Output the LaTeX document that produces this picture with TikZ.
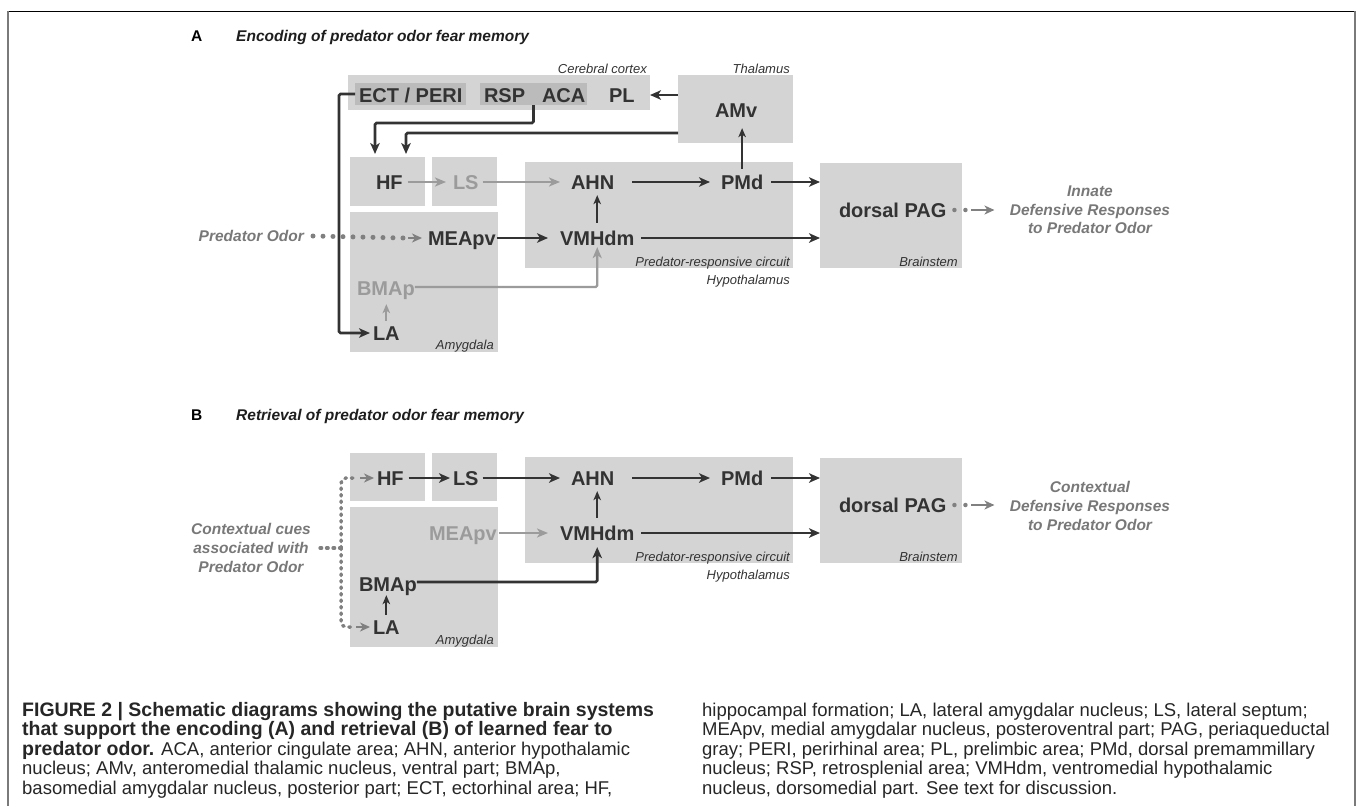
\documentclass[tikz,border=0pt]{standalone}
\usepackage{fontspec}
\setmainfont{Liberation Sans}
\usetikzlibrary{arrows.meta,calc}
\definecolor{boxgray}{HTML}{D4D4D4}
\definecolor{innergray}{HTML}{BBBBBB}
\definecolor{dark}{HTML}{333333}
\definecolor{lightgray2}{HTML}{9B9B9B}
\definecolor{labgray}{HTML}{787878}
\definecolor{dotgray}{HTML}{808080}
\definecolor{framegray}{HTML}{7A7A7A}
\definecolor{titlec}{HTML}{1E1E1E}
\definecolor{capc}{HTML}{262626}
\newcommand{\capbf}[1]{{\fontsize{19.5}{20}\selectfont\bfseries #1}}
\begin{document}
\begin{tikzpicture}[x=1pt,y=-1pt,
  regionbox/.style={fill=boxgray, draw=none, inner sep=0pt, outer sep=0pt, anchor=north west},
  innerbox/.style={fill=innergray, draw=none, inner sep=0pt, outer sep=0pt, anchor=north west},
  nlab/.style={font=\fontsize{20}{24}\selectfont\bfseries, text=dark, inner sep=0pt, outer sep=0pt, text height=14.3pt, text depth=0pt, anchor=west},
  glab/.style={nlab, text=lightgray2},
  rlab/.style={font=\fontsize{13}{15}\selectfont\itshape, text=dark, inner sep=0pt, text height=9.3pt, text depth=0pt, anchor=east},
  side/.style={font=\fontsize{15.5}{18.7}\selectfont\bfseries\itshape, text=labgray, align=center, inner sep=0pt},
  ptitle/.style={font=\fontsize{15.5}{18}\selectfont\bfseries\itshape, text=titlec, inner sep=0pt, text height=11.1pt, text depth=0pt, anchor=west},
  pletter/.style={font=\fontsize{15.5}{18}\selectfont\bfseries, text=black, inner sep=0pt, text height=11.1pt, text depth=0pt, anchor=west},
  capline/.style={font=\fontsize{18.5}{20}\selectfont, text=capc, inner sep=0pt, anchor=base west},
  darr/.style={draw=dark, line width=2.6pt, rounded corners=1.5pt, -{Stealth[length=11pt,width=9.5pt,inset=3pt]}},
  tarr/.style={draw=dark, line width=2pt, -{Stealth[length=9pt,width=7.5pt,inset=2.5pt]}},
  garr/.style={draw=lightgray2, line width=2.4pt, rounded corners=1.5pt, -{Stealth[length=11pt,width=9pt,inset=3pt]}},
  gtarr/.style={draw=lightgray2, line width=2pt, -{Stealth[length=9pt,width=7.5pt,inset=2.5pt]}},
  dotA/.style={draw=dotgray, line width=5pt, line cap=round, dash pattern=on 0pt off 10pt},
  dotPAG/.style={draw=dotgray, line width=4.5pt, line cap=round, dash pattern=on 0pt off 11pt},
  dotB/.style={draw=dotgray, line width=3.5pt, line cap=round, dash pattern=on 1.5pt off 5pt},
  dtip/.style={draw=dotgray, line width=2.4pt, -{Stealth[length=10pt,width=9pt,inset=3pt]}},
]
\useasboundingbox (0,0) rectangle (1357,806);
% frame
\draw[black, line width=1.2pt] (7,11.7) -- (1356,11.7);
\draw[framegray, line width=2pt] (8,11) -- (8,806);
\draw[framegray, line width=2pt] (1355,11) -- (1355,806);

% ================= Panel A =================
\node[pletter] (letA) at (191,36) {A};
\node[ptitle] (titA) at (236,36) {Encoding of predator odor fear memory};

\node[regionbox, minimum width=302pt, minimum height=35pt] (cortA) at (348,75) {};
\node[innerbox, minimum width=111pt, minimum height=22pt] (ectboxA) at (355,83) {};
\node[innerbox, minimum width=107pt, minimum height=22pt] (rspboxA) at (480,83) {};
\node[regionbox, minimum width=115pt, minimum height=68pt] (thalA) at (678,75) {};
\node[regionbox, minimum width=75pt, minimum height=49pt] (hfboxA) at (350,157) {};
\node[regionbox, minimum width=65pt, minimum height=49pt] (lsboxA) at (432,157) {};
\node[regionbox, minimum width=148pt, minimum height=140pt] (amyA) at (350,212) {};
\node[regionbox, minimum width=268pt, minimum height=106pt] (hypA) at (525,162) {};
\node[regionbox, minimum width=142pt, minimum height=105pt] (bsA) at (820,163) {};

\node[rlab] (lcortA) at (647,69) {Cerebral cortex};
\node[rlab] (lthalA) at (790,69) {Thalamus};
\node[rlab] (lamyA) at (494,345) {Amygdala};
\node[rlab] (lprcA) at (790,262) {Predator-responsive circuit};
\node[rlab] (lhypA) at (790,280) {Hypothalamus};
\node[rlab] (lbsA) at (958,262) {Brainstem};

\node[nlab] (ectA) at (359,95) {ECT / PERI};
\node[nlab] (rspA) at (484,95) {RSP};
\node[nlab] (acaA) at (542,95) {ACA};
\node[nlab] (plA) at (609,95) {PL};
\node[nlab] (amvA) at (715,110) {AMv};
\node[nlab] (hfA) at (376,182) {HF};
\node[glab] (lsA) at (453,182) {LS};
\node[nlab] (ahnA) at (571,182) {AHN};
\node[nlab] (pmdA) at (721,182) {PMd};
\node[nlab] (meA) at (428,238) {MEApv};
\node[nlab] (vmhA) at (560,238) {VMHdm};
\node[glab] (bmA) at (357,288) {BMAp};
\node[nlab] (laA) at (373,333) {LA};
\node[nlab] (pagA) at (839,210) {dorsal PAG};
\node[side, anchor=east] (podorA) at (304,236) {Predator Odor};
\node[side] (innA) at (1090,210) {Innate\\Defensive Responses\\to Predator Odor};

\draw[darr] (thalA.west |- plA.east) -- (cortA.east |- plA.east);
\draw[darr] (ectboxA.west) -- ++(-16,0) |- ([xshift=-3pt]laA.west);
\draw[darr] (rspboxA.south) -- ++(0,18) -| ([xshift=25pt,yshift=3pt]hfboxA.north west);
\draw[darr] ([yshift=10pt]thalA.south west) -| ([xshift=56pt,yshift=3pt]hfboxA.north west);
\draw[garr] ([xshift=5pt]hfA.east) -- ([xshift=-7pt]lsA.west);
\draw[garr] ([xshift=4pt]lsA.east) -- ([xshift=-11pt]ahnA.west);
\draw[darr] ([xshift=18pt]ahnA.east) -- ([xshift=-11pt]pmdA.west);
\draw[darr] ([xshift=8pt]pmdA.east) -- (bsA.west |- pmdA.east);
\draw[tarr] ([yshift=6pt]pmdA.north) -- ([yshift=-11pt]pmdA.north |- amvA.south);
\draw[tarr] ([yshift=8pt]vmhA.north) -- ([yshift=-6pt]vmhA.north |- ahnA.south);
\draw[darr] ([xshift=1pt]meA.east) -- ([xshift=-12pt]vmhA.west);
\draw[darr] ([xshift=7pt]vmhA.east) -- (bsA.west |- vmhA.east);
\draw[garr] ([yshift=1pt]bmA.east) -| ([yshift=-2pt]vmhA.south);
\draw[gtarr] ([yshift=5pt]laA.north) -- ([yshift=-9pt]laA.north |- bmA.south);
\draw[dotA] ([xshift=9pt]podorA.east) -- ([xshift=-24pt]meA.west);
\draw[dtip] ([xshift=-20pt]meA.west) -- ([xshift=-6pt]meA.west);
\draw[dotPAG] ([xshift=8pt]pagA.east) -- ([xshift=20pt]pagA.east);
\draw[dtip] ([xshift=25pt]pagA.east) -- ([xshift=48pt]pagA.east);

% ================= Panel B =================
\node[pletter] (letB) at (191,415) {B};
\node[ptitle] (titB) at (236,415) {Retrieval of predator odor fear memory};

\node[regionbox, minimum width=75pt, minimum height=48pt] (hfboxB) at (350,453) {};
\node[regionbox, minimum width=65pt, minimum height=48pt] (lsboxB) at (432,453) {};
\node[regionbox, minimum width=148pt, minimum height=140pt] (amyB) at (350,507) {};
\node[regionbox, minimum width=268pt, minimum height=106pt] (hypB) at (525,457) {};
\node[regionbox, minimum width=142pt, minimum height=105pt] (bsB) at (820,458) {};

\node[rlab] (lamyB) at (494,640) {Amygdala};
\node[rlab] (lprcB) at (790,557) {Predator-responsive circuit};
\node[rlab] (lhypB) at (790,575) {Hypothalamus};
\node[rlab] (lbsB) at (958,557) {Brainstem};

\node[nlab] (hfB) at (377,478) {HF};
\node[nlab] (lsB) at (453,478) {LS};
\node[nlab] (ahnB) at (571,478) {AHN};
\node[nlab] (pmdB) at (721,478) {PMd};
\node[glab] (meB) at (429,533) {MEApv};
\node[nlab] (vmhB) at (560,533) {VMHdm};
\node[nlab] (bmB) at (359,584) {BMAp};
\node[nlab] (laB) at (373,627) {LA};
\node[nlab] (pagB) at (839,505) {dorsal PAG};
\node[side] (ctxB) at (251,548) {Contextual cues\\associated with\\Predator Odor};
\node[side] (conB) at (1090,506) {Contextual\\Defensive Responses\\to Predator Odor};

\draw[darr] ([xshift=5pt]hfB.east) -- ([xshift=-3pt]lsB.west);
\draw[darr] ([xshift=4pt]lsB.east) -- ([xshift=-11pt]ahnB.west);
\draw[darr] ([xshift=18pt]ahnB.east) -- ([xshift=-11pt]pmdB.west);
\draw[darr] ([xshift=8pt]pmdB.east) -- (bsB.west |- pmdB.east);
\draw[tarr] ([yshift=8pt]vmhB.north) -- ([yshift=-6pt]vmhB.north |- ahnB.south);
\draw[garr] ([xshift=2pt]meB.east) -- ([xshift=-12pt]vmhB.west);
\draw[darr] ([xshift=7pt]vmhB.east) -- (bsB.west |- vmhB.east);
\draw[darr] ([yshift=2pt]bmB.east) -| ([yshift=-7pt]vmhB.south);
\draw[tarr] ([yshift=5pt]laB.north) -- ([yshift=-4pt]laB.north |- bmB.south);

\coordinate (jB) at ([xshift=30pt]ctxB.east);
\draw[dotB] ([xshift=9pt]ctxB.east) -- (jB);
\draw[dotB, rounded corners=5pt] (jB) |- ([xshift=-20pt]hfB.west);
\draw[dotB, rounded corners=5pt] (jB) |- ([xshift=-20pt]laB.west);
\draw[dtip] ([xshift=-17pt]hfB.west) -- ([xshift=-3pt]hfB.west);
\draw[dtip] ([xshift=-17pt]laB.west) -- ([xshift=-3pt]laB.west);
\draw[dotPAG] ([xshift=8pt]pagB.east) -- ([xshift=20pt]pagB.east);
\draw[dtip] ([xshift=25pt]pagB.east) -- ([xshift=48pt]pagB.east);

% ================= Caption =================
\node[capline] (c1) at (22,716) {\capbf{FIGURE 2 | Schematic diagrams showing the putative brain systems}};
\node[capline] (c2) at (22,735.5) {\capbf{that support the encoding (A) and retrieval (B) of learned fear to}};
\node[capline] (c3) at (22,755) {\capbf{predator odor.} ACA, anterior cingulate area; AHN, anterior hypothalamic};
\node[capline] (c4) at (22,774.5) {nucleus; AMv, anteromedial thalamic nucleus, ventral part; BMAp,};
\node[capline] (c5) at (22,794) {basomedial amygdalar nucleus, posterior part; ECT, ectorhinal area; HF,};
\node[capline] (d1) at (702,716) {hippocampal formation; LA, lateral amygdalar nucleus; LS, lateral septum;};
\node[capline] (d2) at (702,735.5) {MEApv, medial amygdalar nucleus, posteroventral part; PAG, periaqueductal};
\node[capline] (d3) at (702,755) {gray; PERI, perirhinal area; PL, prelimbic area; PMd, dorsal premammillary};
\node[capline] (d4) at (702,774.5) {nucleus; RSP, retrosplenial area; VMHdm, ventromedial hypothalamic};
\node[capline] (d5) at (702,794) {nucleus, dorsomedial part. See text for discussion.};
\end{tikzpicture}
\end{document}
